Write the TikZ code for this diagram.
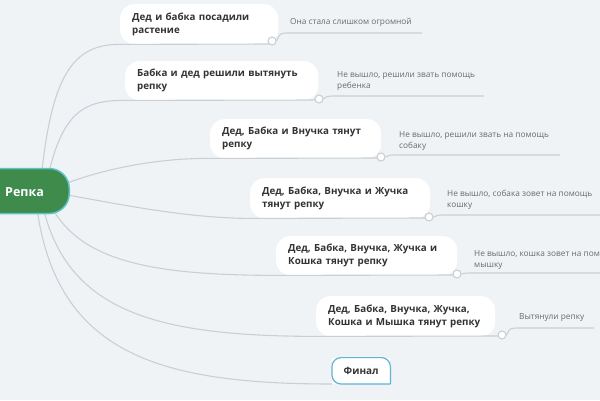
\documentclass[tikz,border=0pt]{standalone}
\usepackage{fontspec}
\setmainfont{Open Sans}
\begin{document}
\begin{tikzpicture}[x=1pt,y=-1pt,
  branch/.style={draw=linegray,line width=1.1pt},
  pill/.style={fill=white,rounded corners=14pt,anchor=north west,inner xsep=12pt,inner ysep=4pt,
    align=left,text=textdark,font=\bfseries\fontsize{9.8}{13}\selectfont},
  knob/.style={circle,draw=linegray,fill=white,line width=1.1pt,minimum size=8pt,inner sep=0pt},
  childtxt/.style={anchor=south west,align=left,text=textgray,inner sep=0pt,
    font=\fontsize{8.3}{11.5}\selectfont}]
\definecolor{bgc}{HTML}{EFF3F6}
\definecolor{linegray}{HTML}{C9CFD4}
\definecolor{textdark}{HTML}{333333}
\definecolor{textgray}{HTML}{6A6A6A}
\definecolor{rootgreen}{HTML}{3F8B4C}
\definecolor{rootedge}{HTML}{5CC3C9}
\definecolor{finedge}{HTML}{62B4D4}
\fill[bgc] (0,0) rectangle (600,400);
\useasboundingbox (0,0) rectangle (600,400);
% origins
\coordinate (o1) at (40,190);
\coordinate (o2) at (45,190);
\coordinate (o3) at (50,190);
\coordinate (o4) at (50,192);
\coordinate (o5) at (45,192);
\coordinate (o6) at (40,192);
\coordinate (o7) at (35,192);
% nodes
\node[pill,minimum height=40pt,text width=134pt] (n1) at (120,4) {Дед и бабка посадили\\растение};
\node[pill,minimum height=39pt,text width=169pt] (n2) at (125,61) {Бабка и дед решили вытянуть\\репку};
\node[pill,minimum height=39pt,text width=147pt] (n3) at (210,119) {Дед, Бабка и Внучка тянут\\репку};
\node[pill,minimum height=40pt,text width=156pt] (n4) at (250,178) {Дед, Бабка, Внучка и Жучка\\тянут репку};
\node[pill,minimum height=39pt,text width=157pt] (n5) at (276,236) {Дед, Бабка, Внучка, Жучка и\\Кошка тянут репку};
\node[pill,minimum height=40pt,text width=155pt] (n6) at (316,296) {Дед, Бабка, Внучка, Жучка,\\Кошка и Мышка тянут репку};
\node[fill=white,anchor=south west,minimum width=58pt,minimum height=26pt,inner sep=0pt,
  text=textdark,font=\bfseries\fontsize{10}{13}\selectfont] (n7) at (332,384) {Финал};
% branches
\draw[branch] (o1) .. controls (50,80) and (70,44) .. (n1.south west) -- (272,44);
\draw[branch] (o2) .. controls (60,115) and (80,100) .. (n2.south west) -- (318,100);
\draw[branch] (o3) .. controls (90,172) and (150,158) .. (n3.south west) -- (381,158);
\draw[branch] (o4) .. controls (110,202) and (180,218) .. (n4.south west) -- (429,218);
\draw[branch] (o5) .. controls (70,262) and (150,275) .. (n5.south west) -- (457,275);
\draw[branch] (o6) .. controls (60,310) and (150,336) .. (n6.south west) -- (502,336);
\draw[branch] (o7) .. controls (50,350) and (150,384) .. (n7.south west);
\draw[finedge,line width=1.2pt,rounded corners=9pt] (n7.south east) -- (n7.north east) -- (n7.north west) -- (n7.south west) -- (n7.south east);
% knobs
\node[knob] (k1) at (272,41) {};
\node[knob] (k2) at (319,99) {};
\node[knob] (k3) at (381,157) {};
\node[knob] (k4) at (429,217) {};
\node[knob] (k5) at (457,274) {};
\node[knob] (k6) at (502,335) {};
% child lines
\coordinate (e1) at (422,33);
\coordinate (e2) at (484,96);
\coordinate (e3) at (560,155);
\coordinate (e4) at (600,215);
\coordinate (e5) at (600,273);
\coordinate (e6) at (594,328);
\draw[branch] (k1.east) .. controls (280,33) .. (290,33) -- (e1);
\draw[branch] (k2.east) .. controls (327,96) .. (337,96) -- (e2);
\draw[branch] (k3.east) .. controls (389,155) .. (399,155) -- (e3);
\draw[branch] (k4.east) .. controls (437,215) .. (447,215) -- (e4);
\draw[branch] (k5.east) .. controls (465,273) .. (475,273) -- (e5);
\draw[branch] (k6.east) .. controls (510,328) .. (520,328) -- (e6);
\node[childtxt] (t1) at (290,27) {Она стала слишком огромной};
\node[childtxt] (t2) at (337,91) {Не вышло, решили звать помощь\\ребенка};
\node[childtxt] (t3) at (399,151) {Не вышло, решили звать на помощь\\собаку};
\node[childtxt] (t4) at (447,210) {Не вышло, собака зовет на помощь\\кошку};
\node[childtxt] (t5) at (474,270) {Не вышло, кошка зовет на помощь\\мышку};
\node[childtxt] (t6) at (519,322) {Вытянули репку};
% root
\node[fill=rootgreen,draw=rootedge,line width=1.5pt,rounded corners=20pt,anchor=east,
  minimum width=110pt,minimum height=45pt] (root) at (70,191) {};
\node[text=white,font=\bfseries\fontsize{12.5}{14}\selectfont,anchor=west,inner sep=0pt] (rt) at (5,192) {Репка};
\end{tikzpicture}
\end{document}
